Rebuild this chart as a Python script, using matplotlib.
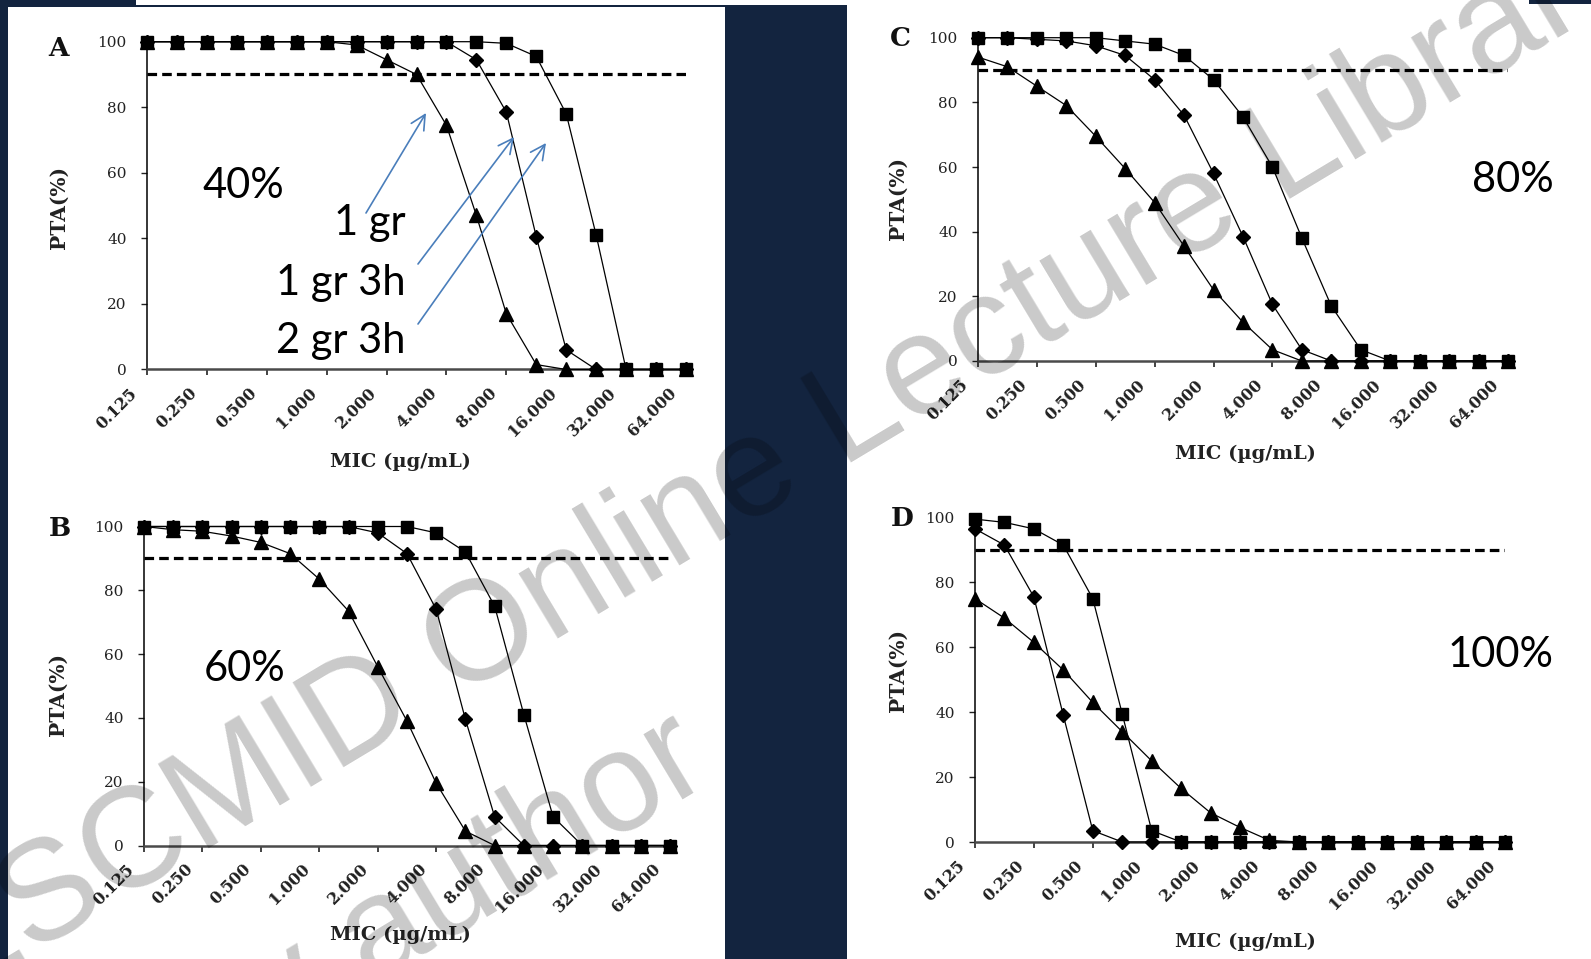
import numpy as np
import matplotlib
matplotlib.use("Agg")
import matplotlib.pyplot as plt
from matplotlib.patches import Rectangle
from matplotlib.transforms import ScaledTranslation

# ---------------- data ----------------
mic_tick_labels = ['0.125', '0.250', '0.500', '1.000', '2.000',
                   '4.000', '8.000', '16.000', '32.000', '64.000']
n_points = 19          # MIC steps (0.125 ... 64, half-log2 steps)
target = 90            # PTA target line

# Panel A (40% fT>MIC)
tri_A = [100, 100, 100, 100, 100, 100, 100, 99, 94.5, 90, 74.5, 47, 17, 1.5, 0, 0, 0, 0, 0]
dia_A = [100, 100, 100, 100, 100, 100, 100, 100, 100, 100, 100, 94.5, 78.5, 40.5, 6, 0, 0, 0, 0]
sq_A = [100, 100, 100, 100, 100, 100, 100, 100, 100, 100, 100, 100, 99.5, 95.5, 78, 41, 0, 0, 0]

# Panel B (60%)
tri_B = [100, 99, 98.5, 97, 95, 91.5, 83.5, 73.5, 56, 39, 19.5, 4.5, 0, 0, 0, 0, 0, 0, 0]
dia_B = [100, 100, 100, 100, 100, 100, 100, 100, 98, 91.5, 74, 39.5, 9, 0, 0, 0, 0, 0, 0]
sq_B = [100, 100, 100, 100, 100, 100, 100, 100, 100, 100, 98, 92, 75, 41, 9, 0, 0, 0, 0]

# Panel C (80%)
tri_C = [94, 91, 85, 79, 69.5, 59.5, 49, 35.5, 22, 12, 3.5, 0, 0, 0, 0, 0, 0, 0, 0]
dia_C = [100, 100, 99.5, 99, 97.5, 94.5, 87, 76, 58, 38.5, 17.5, 3.5, 0, 0, 0, 0, 0, 0, 0]
sq_C = [100, 100, 100, 100, 100, 99, 98, 94.5, 87, 75.5, 60, 38, 17, 3.5, 0, 0, 0, 0, 0]

# Panel D (100%)
tri_D = [75, 69, 61.5, 53, 43, 34, 25, 16.5, 9, 4.5, 0.5, 0, 0, 0, 0, 0, 0, 0, 0]
dia_D = [96.5, 91.5, 75.5, 39, 3.5, 0, 0, 0, 0, 0, 0, 0, 0, 0, 0, 0, 0, 0, 0]
sq_D = [99.5, 98.5, 96.5, 91.5, 75, 39.5, 3.5, 0, 0, 0, 0, 0, 0, 0, 0, 0, 0, 0, 0]

panel_letters = ['A', 'B', 'C', 'D']
panel_pct = ['40%', '60%', '80%', '100%']
series_names = ['1 gr', '1 gr 3h', '2 gr 3h']

# ---------------- layout (pixels) ----------------
W, H = 1591, 959
NAVY = '#13243f'
BLUE = '#4a7ebb'
SERIF = ['DejaVu Serif']
SANS = ['Lato', 'DejaVu Sans']

fig = plt.figure(figsize=(W / 100, H / 100), dpi=100, facecolor=NAVY)


def fxy(px, py):
    return px / W, 1 - py / H


def rect(x0, y0, x1, y1, color, z=-5):
    fig.add_artist(Rectangle((x0 / W, 1 - y1 / H), (x1 - x0) / W, (y1 - y0) / H,
                             transform=fig.transFigure, facecolor=color,
                             edgecolor='none', zorder=z))


rect(8, 7, 725, 959, 'white')
rect(136, 0, 847, 5, 'white')
rect(847, 0, 1591, 959, 'white')
rect(1529, 0, 1591, 4, NAVY, z=-4)

# (x of first category, x of last category, y of 0, y of 100) ; label centres
layouts = [
    dict(box=(147, 686, 369.5, 41.7), xl=(400, 462), yl=(59, 208), let=(59, 49),
         pct=(202, 198, 'left')),
    dict(box=(144, 670, 845.5, 526.5), xl=(400, 935), yl=(58, 695), let=(60, 528),
         pct=(204, 681, 'left')),
    dict(box=(978, 1508, 361, 37.7), xl=(1245, 454), yl=(898, 198), let=(900, 38),
         pct=(1554, 192, 'right')),
    dict(box=(975, 1505, 842, 517.5), xl=(1245, 942), yl=(898, 670), let=(902, 518),
         pct=(1554, 667, 'right')),
]
data = [(tri_A, dia_A, sq_A), (tri_B, dia_B, sq_B),
        (tri_C, dia_C, sq_C), (tri_D, dia_D, sq_D)]

x = np.arange(n_points)
axes = []
for lay, (tri, dia, sq), letter, pct in zip(layouts, data, panel_letters, panel_pct):
    x0, x1, y0, y1 = lay['box']
    ax = fig.add_axes([x0 / W, 1 - y0 / H, (x1 - x0) / W, (y0 - y1) / H])
    axes.append(ax)
    ax.patch.set_visible(False)
    ax.set_xlim(0, n_points - 1)
    ax.set_ylim(0, 100)
    for s in ['top', 'right']:
        ax.spines[s].set_visible(False)
    ax.spines['left'].set_linewidth(1.1)
    ax.spines['left'].set_color('black')
    ax.spines['bottom'].set_linewidth(1.8)
    ax.spines['bottom'].set_color('#4a4a4a')

    ax.axhline(target, color='black', lw=2.3, dashes=(3, 1.6), zorder=2)
    ax.plot(x, tri, '-^', color='black', lw=0.9, ms=10.5, clip_on=False, zorder=3)
    ax.plot(x, dia, '-D', color='black', lw=0.9, ms=6.8, clip_on=False, zorder=3)
    ax.plot(x, sq, '-s', color='black', lw=0.9, ms=8.6, clip_on=False, zorder=3)

    ax.set_yticks([0, 20, 40, 60, 80, 100])
    ax.tick_params(axis='y', direction='out', length=4.5, width=1, pad=10,
                   labelsize=11, colors='#222222')
    for lab in ax.get_yticklabels():
        lab.set_family(SERIF)
    ax.set_xticks(np.arange(0, n_points, 2))
    ax.set_xticklabels(mic_tick_labels)
    ax.tick_params(axis='x', direction='out', length=4, width=1.2, pad=7,
                   labelsize=11.5, colors='#222222')
    off = ScaledTranslation(-6 / 100, 0, fig.dpi_scale_trans)
    for lab in ax.get_xticklabels():
        lab.set_family(SERIF)
        lab.set_weight('bold')
        lab.set_rotation(45)
        lab.set_ha('right')
        lab.set_va('top')
        lab.set_transform(lab.get_transform() + off)

    ax.set_xlabel('MIC (\u00b5g/mL)', family=SERIF, weight='bold', fontsize=14, color='#222222')
    ax.xaxis.label.set_va('center')
    ax.xaxis.set_label_coords((lay['xl'][0] - x0) / (x1 - x0), (y0 - lay['xl'][1]) / (y0 - y1))
    ax.set_ylabel('PTA(%)', family=SERIF, weight='bold', fontsize=14.5, color='#222222')
    ax.yaxis.label.set_va('center')
    ax.yaxis.set_label_coords((lay['yl'][0] - x0) / (x1 - x0), (y0 - lay['yl'][1]) / (y0 - y1))

    fig.text(*fxy(*lay['let']), letter, family=SERIF, weight='bold', fontsize=19,
             ha='center', va='center', color='#111111')
    px, py, ha = lay['pct']
    fig.text(*fxy(px, py), pct, family=SANS, fontsize=30, ha=ha, va='baseline',
             color='black')

# Series labels with arrows (panel A)
label_pos = [(406, 235), (406, 295), (406, 353)]
arrow_tail = [(366, 213), (418, 264), (418, 324)]
arrow_head = [(426, 113), (514, 137), (546, 143)]
for name, (lx, ly), tail, head in zip(series_names, label_pos, arrow_tail, arrow_head):
    fig.text(*fxy(lx, ly), name, family=SANS, fontsize=30, ha='right', va='baseline',
             color='black')
    axes[0].annotate('', xy=fxy(*head), xytext=fxy(*tail),
                     xycoords='figure fraction', textcoords='figure fraction',
                     annotation_clip=False,
                     arrowprops=dict(arrowstyle='->,head_length=0.7,head_width=0.35',
                                     color=BLUE, lw=1.2, shrinkA=0, shrinkB=0,
                                     mutation_scale=15))

# Watermark overlay
wm = dict(family=['Liberation Sans', 'DejaVu Sans'], fontsize=102, color='black',
          alpha=0.21, rotation=31, rotation_mode='anchor', va='baseline', zorder=20)
fig.text(*fxy(842, 468), 'Lecture Library', ha='left', **wm)
fig.text(*fxy(807, 489), 'ESCMID Online', ha='right', **wm)
fig.text(*fxy(715, 780), '\u00a9 by author', ha='right', **wm)

fig.savefig('out.png', dpi=100, facecolor=NAVY)
